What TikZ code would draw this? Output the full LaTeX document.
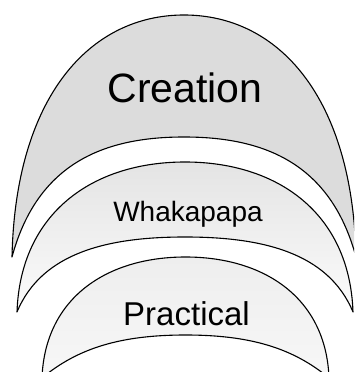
\documentclass[tikz,border=0pt]{standalone}
\usepackage{fontspec}
\setmainfont{Liberation Sans}
\usepackage{xcolor}
\usepackage{tikz}
\definecolor{creationfill}{RGB}{220,220,220}
\definecolor{whakatop}{RGB}{228,228,228}
\definecolor{whakabot}{RGB}{251,251,251}
\definecolor{practop}{RGB}{238,238,238}
\definecolor{pracbot}{RGB}{247,247,247}
\newcommand\labelsize[1]{\fontsize{#1}{#1}\selectfont}
\tikzstyle{archline}=[draw=black,line width=1.1pt,line join=round]
\tikzstyle{archlabel}=[anchor=base,inner sep=0pt]
\begin{document}
\begin{tikzpicture}[x=1pt,y=1pt]
	\useasboundingbox (0,0) rectangle (354,372);
	\clip (0,0) rectangle (354,372);
	% creation arch
	\path[archline,fill=creationfill]
	  (12,115) .. controls (15.4,274.7) and (89.4,357) .. (184,357)
	           .. controls (278.6,357) and (352.6,274.7) .. (356,115)
	           .. controls (330,211) and (261,235) .. (184,235)
	           .. controls (107,235) and (38,211) .. (12,115) -- cycle;
	% whakapapa arch
	\path[archline,top color=whakatop,bottom color=whakabot]
	  (17,60) .. controls (20.4,159) and (92.6,210) .. (185,210)
	          .. controls (277.4,210) and (349.6,159) .. (353,60)
	          .. controls (328,120) and (261,135) .. (185,135)
	          .. controls (109,135) and (42,120) .. (17,60) -- cycle;
	% practical arch
	\path[archline,top color=practop,bottom color=pracbot]
	  (42,-6) .. controls (44.9,73.9) and (106.6,115) .. (185.5,115)
	          .. controls (264.4,115) and (326.1,73.9) .. (329,-6)
	          .. controls (293,24) and (250,37) .. (185.5,37)
	          .. controls (121,37) and (78,24) .. (42,-6) -- cycle;
	\node[archlabel] (creation)  at (185,269)   {\labelsize{41}Creation};
	\node[archlabel] (whakapapa) at (188,150)   {\labelsize{28}Whakapapa};
	\node[archlabel] (practical) at (186.5,46)  {\labelsize{33}Practical};
\end{tikzpicture}
\end{document}
